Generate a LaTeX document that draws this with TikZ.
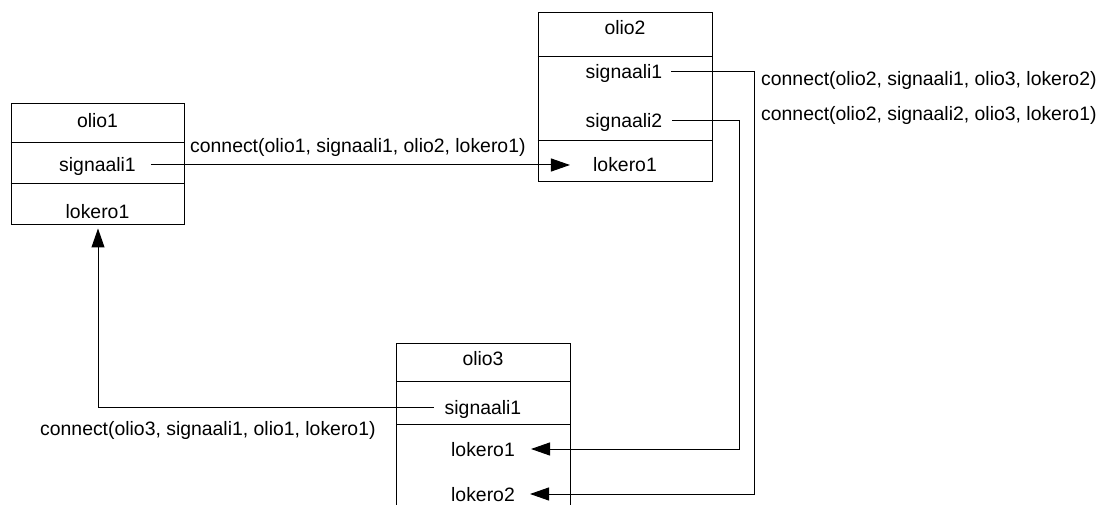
\documentclass[tikz,border=0pt]{standalone}
\usepackage{fontspec}
\setmainfont{Liberation Sans}
\usetikzlibrary{arrows.meta}

\begin{document}
\begin{tikzpicture}[x=1pt, y=-1pt,
  every node/.style={font=\fontsize{19.4}{23}\selectfont},
  objbox/.style={draw, line width=1pt, inner sep=0pt},
  divider/.style={line width=1pt},
  lbl/.style={inner sep=0pt, text height=14pt, text depth=0pt},
  conn/.style={line width=1pt},
  arr/.style={conn, -{Triangle[length=19pt, width=13pt]}}
]
\useasboundingbox (0,0) rectangle (1109,505);

% ---- object olio1 ----
\node[objbox, minimum width=173pt, minimum height=121pt] (o1box) at (97.5,164.5) {};
\draw[divider] (o1box.west |- 0,143) -- (o1box.east |- 0,143);
\draw[divider] (o1box.west |- 0,184) -- (o1box.east |- 0,184);
\node[lbl] (o1title) at (97.5,121) {olio1};
\node[lbl] (o1sig)   at (97.5,165) {signaali1};
\node[lbl] (o1lok)   at (97.5,212) {lokero1};

% ---- object olio2 ----
\node[objbox, minimum width=174pt, minimum height=169pt] (o2box) at (625,97.5) {};
\draw[divider] (o2box.west |- 0,57)  -- (o2box.east |- 0,57);
\draw[divider] (o2box.west |- 0,141) -- (o2box.east |- 0,141);
\node[lbl] (o2title) at (625,28)  {olio2};
\node[lbl] (o2sig1)  at (624,72)  {signaali1};
\node[lbl] (o2sig2)  at (624,121) {signaali2};
\node[lbl] (o2lok)   at (625,165) {lokero1};

% ---- object olio3 (continues below the page edge) ----
\coordinate (o3nw) at (396,343);
\coordinate (o3ne) at (570,343);
\draw[line width=1pt] (396,506) -- (o3nw) -- (o3ne) -- (570,506);
\draw[divider] (o3nw |- 0,381) -- (o3ne |- 0,381);
\draw[divider] (o3nw |- 0,424) -- (o3ne |- 0,424);
\node[lbl] (o3title) at (483,358) {olio3};
\node[lbl] (o3sig)   at (483,407) {signaali1};
\node[lbl] (o3lok1)  at (483,449) {lokero1};
\node[lbl] (o3lok2)  at (483,494) {lokero2};

% ---- connections ----
\draw[arr] ([xshift=15pt]o1sig.east) -- ([xshift=-23pt]o2lok.west);
\node[lbl, anchor=west] (c1) at (190,146) {connect(olio1, signaali1, olio2, lokero1)};

\draw[arr] ([xshift=9pt]o2sig1.east) -- ++(83,0) |- ([xshift=15pt]o3lok2.east);
\draw[arr] ([xshift=10pt]o2sig2.east) -- ++(67,0) |- ([xshift=16pt]o3lok1.east);
\node[lbl, anchor=west] (c2) at (761,79)  {connect(olio2, signaali1, olio3, lokero2)};
\node[lbl, anchor=west] (c3) at (761,114) {connect(olio2, signaali2, olio3, lokero1)};

\draw[arr] ([xshift=-11pt]o3sig.west) -| ([xshift=0.5pt, yshift=-3pt]o1box.south);
\node[lbl, anchor=west] (c4) at (40,428) {connect(olio3, signaali1, olio1, lokero1)};
\end{tikzpicture}
\end{document}
